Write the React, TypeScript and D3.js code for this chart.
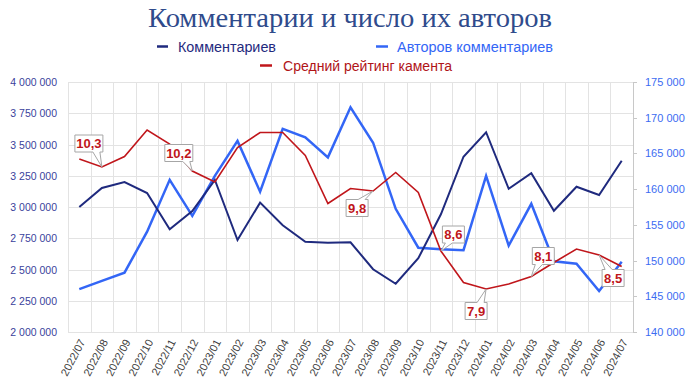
import React from "react";
import * as d3 from "d3";

const months = [
  "2022/07","2022/08","2022/09","2022/10","2022/11","2022/12",
  "2023/01","2023/02","2023/03","2023/04","2023/05","2023/06",
  "2023/07","2023/08","2023/09","2023/10","2023/11","2023/12",
  "2024/01","2024/02","2024/03","2024/04","2024/05","2024/06","2024/07",
];
const comments = [
  3000000, 3152000, 3200000, 3112000, 2822000, 2968000,
  3216000, 2736000, 3035000, 2854000, 2722000, 2714000,
  2718000, 2502000, 2386000, 2590000, 2942000, 3402000,
  3598000, 3146000, 3270000, 2970000, 3162000, 3096000, 3370000,
];
const authors = [
  146000, 147150, 148300, 154050, 161300, 156250,
  161850, 166750, 159650, 168450, 167250, 164450,
  171450, 166500, 157250, 151800, 151600, 151450,
  161850, 152100, 157950, 149900, 149550, 145750, 149850,
];
const rating = [
  10.46, 10.3, 10.51, 11.04, 10.76, 10.22,
  10.0, 10.69, 10.99, 10.99, 10.53, 9.57,
  9.87, 9.82, 10.19, 9.79, 8.62, 7.99,
  7.86, 7.96, 8.11, 8.39, 8.66, 8.54, 8.31,
];
const leftTicks = [2000000, 2250000, 2500000, 2750000, 3000000, 3250000, 3500000, 3750000, 4000000];
const rightTicks = [140000, 145000, 150000, 155000, 160000, 165000, 170000, 175000];
const calloutIdx = [1, 5, 13, 16, 18, 20, 23];

const TITLE = "Комментарии и число их авторов";
const SERIES_NAMES = ["Комментариев", "Авторов комментариев", "Средний рейтинг камента"];

// styling / placement (not data)
const calloutOffsets: Record<number, [number, number]> = {
  1: [-13, -23.5],
  5: [-13.5, -18],
  13: [-16, 17],
  16: [12.5, -16.5],
  18: [-10, 22],
  20: [12, -20.5],
  23: [14, 23],
};

const W = 700, H = 381;
const M = { left: 68, right: 633, top: 82, bottom: 332 };
const NAVY = "#1f2a7e";
const BLUE = "#3366f6";
const RED = "#c0161b";
const FONT = "'Liberation Sans', Arial, sans-serif";

const spaceFmt = (v: number) => d3.format(",")(v).replace(/,/g, "\u00a0");
const commaFmt = (v: number) => d3.format(".1f")(v).replace(".", ",");

export default function App() {
  const x = d3.scaleBand<string>().domain(months).range([M.left, M.right]).padding(0);
  const cx = (i: number) => (x(months[i]) as number) + x.bandwidth() / 2;
  const yL = d3.scaleLinear().domain([2000000, 4000000]).range([M.bottom, M.top]);
  const yR = d3.scaleLinear().domain([140000, 175000]).range([M.bottom, M.top]);
  const yRate = d3.scaleLinear().domain([7, 12]).range([M.bottom, M.top]);

  const lineL = d3.line<number>().x((_, i) => cx(i)).y((d) => yL(d));
  const lineR = d3.line<number>().x((_, i) => cx(i)).y((d) => yR(d));
  const lineRate = d3.line<number>().x((_, i) => cx(i)).y((d) => yRate(d));

  const callouts = calloutIdx.map((i) => {
    const px = cx(i), py = yRate(rating[i]);
    const [dx, dy] = calloutOffsets[i];
    const text = commaFmt(rating[i]);
    const w = text.length > 3 ? 28 : 22;
    const h = 17;
    const bx = px + dx, by = py + dy;
    const l = bx - w / 2, r = bx + w / 2, t = by - h / 2, b = by + h / 2;
    const sign = px >= bx ? 1 : -1;
    const x1 = bx + sign * (w / 2 - 10), x2 = bx + sign * (w / 2 - 3);
    const a = Math.min(x1, x2), c = Math.max(x1, x2);
    let path: string;
    if (py > by) {
      path = `M${l},${t}H${r}V${b}H${c}L${px},${py}L${a},${b}H${l}Z`;
    } else {
      path = `M${l},${t}H${a}L${px},${py}L${c},${t}H${r}V${b}H${l}Z`;
    }
    return { i, path, bx, by, text };
  });

  return (
    <svg width={W} height={H} style={{ position: "absolute", left: 0, top: 0, background: "#fff" }}>
      <text x={350} y={27} textAnchor="middle" fontFamily="'Liberation Serif', 'DejaVu Serif', serif"
        fontSize={28} fill="#2f4b8c" textLength={404} lengthAdjust="spacingAndGlyphs">{TITLE}</text>

      {/* legend */}
      <g fontFamily={FONT} fontSize={14}>
        <line x1={157} x2={168} y1={46.5} y2={46.5} stroke={NAVY} strokeWidth={2.5} />
        <text x={178} y={51.5} fill={NAVY} textLength={98} lengthAdjust="spacingAndGlyphs">{SERIES_NAMES[0]}</text>
        <line x1={376} x2={388} y1={46.5} y2={46.5} stroke={BLUE} strokeWidth={2.5} />
        <text x={397} y={51.5} fill={BLUE} textLength={156} lengthAdjust="spacingAndGlyphs">{SERIES_NAMES[1]}</text>
        <line x1={260} x2={272} y1={65.5} y2={65.5} stroke={RED} strokeWidth={2.5} />
        <text x={283} y={70.5} fill="#b01418" textLength={169} lengthAdjust="spacingAndGlyphs">{SERIES_NAMES[2]}</text>
      </g>

      {/* grid */}
      <g stroke="#e3e3e3" strokeWidth={1}>
        {leftTicks.map((t) => (
          <line key={t} x1={M.left} x2={M.right} y1={Math.round(yL(t)) + 0.5} y2={Math.round(yL(t)) + 0.5} />
        ))}
        {months.map((m) => (
          <line key={m} x1={Math.round(x(m) as number) + 0.5} x2={Math.round(x(m) as number) + 0.5} y1={M.top} y2={M.bottom} />
        ))}
      </g>
      <line x1={M.right + 0.5} x2={M.right + 0.5} y1={M.top} y2={M.bottom} stroke="#c8c8c8" />
      {rightTicks.map((t) => (
        <line key={t} x1={M.right} x2={M.right + 4} y1={Math.round(yR(t)) + 0.5} y2={Math.round(yR(t)) + 0.5} stroke="#c8c8c8" />
      ))}

      {/* axes labels */}
      <g fontFamily={FONT} fontSize={10.5} fill="#3a3f9c" textAnchor="end">
        {leftTicks.map((t) => (
          <text key={t} x={57} y={yL(t) + 4}>{spaceFmt(t)}</text>
        ))}
      </g>
      <g fontFamily={FONT} fontSize={11} fill="#3c6cf2" textAnchor="start">
        {rightTicks.map((t) => (
          <text key={t} x={645} y={yR(t) + 4}>{spaceFmt(t)}</text>
        ))}
      </g>
      <g fontFamily={FONT} fontSize={11} fill="#404040" textAnchor="end">
        {months.map((m, i) => (
          <text key={m} transform={`translate(${cx(i) + 3},${340}) rotate(-62)`} dy="0.35em">{m}</text>
        ))}
      </g>

      {/* lines */}
      <path d={lineR(authors) as string} fill="none" stroke={BLUE} strokeWidth={2.5} />
      <path d={lineL(comments) as string} fill="none" stroke={NAVY} strokeWidth={2} />
      <path d={lineRate(rating) as string} fill="none" stroke={RED} strokeWidth={1.6} />

      {/* callouts */}
      {callouts.map((c) => (
        <g key={c.i}>
          <path d={c.path} fill="#fff" stroke="#a6a6a6" strokeWidth={1} />
          <text x={c.bx} y={c.by + 4.5} textAnchor="middle" fontFamily={FONT} fontSize={13}
            fontWeight="bold" fill={RED}>{c.text}</text>
        </g>
      ))}
    </svg>
  );
}
